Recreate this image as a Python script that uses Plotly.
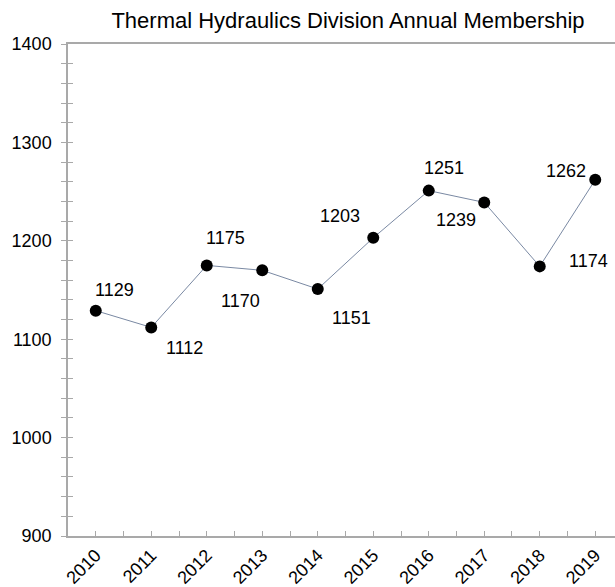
import plotly.graph_objects as go

years = [2010, 2011, 2012, 2013, 2014, 2015, 2016, 2017, 2018, 2019]
members = [1129, 1112, 1175, 1170, 1151, 1203, 1251, 1239, 1174, 1262]
title_text = "Thermal Hydraulics Division Annual Membership"

# label offsets (pixels) for each data label
label_dx = [19, 33, 19, -22, 34, -33, 15, -28, 49, -29]
label_dy = [21, -21, 27, -31, -29, 22, 23, -18, 5, 9]

FONT = "Arial, Liberation Sans, sans-serif"
AX = "#a9a9a9"

fig = go.Figure()
fig.add_trace(go.Scatter(
    x=years, y=members, mode="lines+markers",
    line=dict(color="#7a89a3", width=1),
    marker=dict(color="black", size=12),
    hoverinfo="skip", showlegend=False,
))
fig.add_trace(go.Scatter(x=[], y=[], yaxis="y2", showlegend=False))

for x, y, dx, dy in zip(years, members, label_dx, label_dy):
    fig.add_annotation(x=x, y=y, text=str(y), showarrow=False,
                       xshift=dx, yshift=dy,
                       font=dict(family=FONT, size=18, color="black"))

fig.update_layout(
    width=615, height=587,
    margin=dict(l=68, r=0, t=44, b=51, autoexpand=False),
    paper_bgcolor="white", plot_bgcolor="white",
    font=dict(family=FONT, size=18, color="black"),
    title=dict(text=title_text, x=348/615, xanchor="center",
               y=1 - 20/587, yanchor="middle",
               font=dict(family=FONT, size=22, color="black")),
    xaxis=dict(
        range=[years[0] - 0.5, years[0] + 9.356], automargin=False,
        tickmode="array", tickvals=years, ticktext=[str(y) for y in years],
        tickangle=-45, ticks="inside", ticklen=5, tickcolor=AX, tickwidth=1,
        minor=dict(ticks="inside", ticklen=5, tickcolor=AX, tickwidth=1,
                   tick0=years[0] - 0.5, dtick=1),
        showline=True, linecolor=AX, linewidth=1.5, mirror=True,
        showgrid=False, zeroline=False,
        tickfont=dict(family=FONT, size=18, color="black"),
    ),
    yaxis=dict(
        range=[900, 1400], dtick=100, tick0=900, automargin=False,
        ticks="outside", ticklen=5, tickcolor=AX, tickwidth=1,
        minor=dict(ticks="outside", ticklen=5, tickcolor=AX, tickwidth=1, dtick=20),
        showline=True, linecolor=AX, linewidth=1.5,
        showgrid=False, zeroline=False, ticklabelstandoff=6,
        tickfont=dict(family=FONT, size=18, color="black"),
    ),
    yaxis2=dict(
        range=[900, 1400], overlaying="y", side="left", dtick=100, tick0=900,
        automargin=False,
        ticks="inside", ticklen=5, tickcolor=AX, tickwidth=1,
        minor=dict(ticks="inside", ticklen=5, tickcolor=AX, tickwidth=1, dtick=20),
        showticklabels=False, showline=False, showgrid=False, zeroline=False,
    ),
)

fig.write_html(
    "out.html",
    config={"displayModeBar": False},
    post_script="document.body.style.margin='0';document.body.style.overflow='hidden';",
)
